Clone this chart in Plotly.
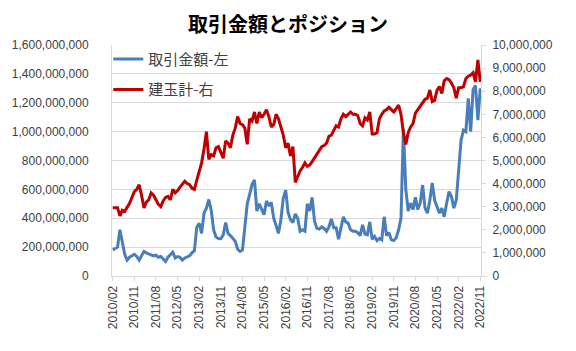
import plotly.graph_objects as go

# Month labels 2010/02 .. 2022/11
months = []
y, m = 2010, 2
while (y, m) <= (2022, 11):
    months.append(f"{y}/{m:02d}")
    m += 1
    if m > 12:
        y, m = y + 1, 1

# 取引金額 (left axis), in millions of yen
trade_millions = [
    180, 190, 200, 320, 230, 150, 110, 130, 140, 150, 135,
    110, 140, 170, 160, 155, 145, 140, 145, 130, 135, 115, 100,
    130, 150, 165, 125, 135, 130, 110, 125, 130, 140, 160, 175,
    340, 365, 295, 435, 470, 530, 455, 320, 270, 260, 258, 285,
    370, 295, 280, 260, 240, 185, 170, 180, 330, 500, 565, 635,
    665, 450, 500, 455, 425, 520, 485, 510, 400, 350, 295, 390,
    540, 595, 440, 390, 370, 430, 400, 310, 320, 310, 500, 450,
    545, 380, 330, 325, 340, 330, 310, 340, 395, 335, 335, 255,
    330, 410, 375, 365, 320, 310, 310, 300, 280, 355, 290, 285,
    375, 255, 275, 245, 260, 250, 410, 280, 300, 250, 245, 265,
    320, 400, 1020, 600, 450, 505, 460, 545, 460, 505, 630, 470,
    435, 525, 645, 525, 480, 435, 470, 410, 505, 585, 550, 470,
    525, 710, 940, 1010, 1000, 1230, 1000, 1290, 1320, 1080, 1300,
]

# 建玉計 (right axis), in millions
position_millions = [
    2.95, 2.95, 2.95, 2.6, 2.85, 2.8, 2.95, 3.15, 3.4, 3.65, 3.75,
    3.95, 3.5, 2.95, 3.2, 3.3, 3.6, 3.5, 3.3, 3.1, 3.0, 3.25, 3.4,
    3.45, 3.3, 3.75, 3.6, 3.7, 3.85, 4.0, 4.1, 4.0, 3.95, 3.8, 3.75,
    4.15, 4.5, 4.9, 5.5, 6.25, 5.05, 5.25, 5.2, 5.55, 5.6, 5.3, 5.1,
    5.85, 5.75, 5.55, 6.1, 6.4, 6.9, 6.6, 6.55, 6.4, 5.7, 6.8, 6.7,
    7.1, 6.6, 7.1, 6.85, 7.0, 7.2, 6.9, 6.45, 6.55, 7.0, 6.8, 6.4,
    6.1, 5.55, 5.75, 5.2, 5.6, 4.05, 4.3, 4.55, 4.7, 4.9, 4.75, 4.8,
    4.95, 5.1, 5.3, 5.45, 5.6, 5.65, 5.75, 6.05, 6.1, 6.3, 6.5, 6.45,
    6.8, 7.0, 6.9, 7.0, 7.1, 7.0, 7.0, 6.95, 6.6, 6.5, 6.85, 6.75,
    7.1, 6.15, 6.15, 6.2, 6.8, 7.0, 7.15, 7.2, 7.3, 7.2, 7.1, 7.25,
    7.4, 7.0, 6.2, 5.7, 6.2, 6.45, 6.6, 7.05, 7.2, 7.4, 7.55, 7.65,
    7.7, 8.05, 7.55, 7.6, 8.05, 8.2, 7.9, 8.45, 8.55, 8.5, 8.35, 8.15,
    7.7, 8.15, 8.15, 8.2, 8.55, 8.65, 8.7, 8.8, 8.4, 9.35, 8.4,
]

trade = [v * 1_000_000 for v in trade_millions]
position = [v * 1_000_000 for v in position_millions]

tick_labels = months[::9]
left_ticks = list(range(0, 1_600_000_001, 200_000_000))
right_ticks = list(range(0, 10_000_001, 1_000_000))

num_font = dict(family="Liberation Sans, Arial, sans-serif", size=12, color="#404040")

fig = go.Figure()
fig.add_trace(go.Scatter(
    x=months, y=trade, name="取引金額-左", mode="lines", legendgroup="a",
    line=dict(color="#4A7EBB", width=3), yaxis="y"))
fig.add_trace(go.Scatter(
    x=months, y=position, name="建玉計-右", mode="lines", legendgroup="b",
    line=dict(color="#C00000", width=3), yaxis="y2"))

fig.update_layout(
    width=576, height=351,
    margin=dict(l=105, r=95, t=45, b=75),
    paper_bgcolor="white", plot_bgcolor="white",
    title=dict(text="<b>取引金額とポジション</b>", x=0.5, xanchor="center",
               y=0.93, yanchor="middle",
               font=dict(family="Noto Sans CJK JP", size=20, color="#000000")),
    showlegend=True,
    legend=dict(x=-0.01, y=1.01, xanchor="left", yanchor="top",
                bgcolor="rgba(0,0,0,0)", traceorder="grouped",
                font=dict(family="Noto Sans CJK JP", size=15, color="#404040"),
                itemwidth=30, tracegroupgap=8),
    xaxis=dict(type="category", tickmode="array", tickvals=tick_labels,
               ticktext=tick_labels, tickangle=-90, tickfont=num_font,
               showline=True, linecolor="#D9D9D9", linewidth=1,
               ticks="outside", ticklen=4, tickcolor="#D9D9D9",
               showgrid=False, range=[-0.3, len(months) - 0.7], mirror=False),
    yaxis=dict(range=[0, 1_600_000_000], tickvals=left_ticks, tickformat=",d",
               tickfont=num_font, showgrid=True, gridcolor="#D9D9D9",
               showline=True, linecolor="#D9D9D9", zeroline=False,
               ticklabelstandoff=20),
    yaxis2=dict(range=[0, 10_000_000], tickvals=right_ticks, tickformat=",d",
                tickfont=num_font, overlaying="y", side="right",
                showgrid=False, showline=True, linecolor="#D9D9D9",
                zeroline=False, ticks="outside", ticklen=4, tickcolor="#D9D9D9",
                ticklabelstandoff=4),
)

fig.write_html("out.html")
